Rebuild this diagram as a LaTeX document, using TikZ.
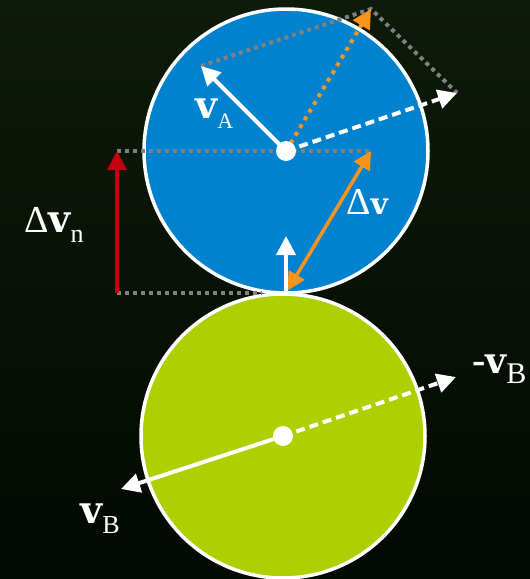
\documentclass[tikz,border=0pt]{standalone}
\usepackage{fontspec}
\setmainfont{Liberation Serif}
\newfontfamily\vfont{DejaVu Serif}
\usetikzlibrary{arrows.meta,calc}
\definecolor{bgtop}{RGB}{14,26,10}
\definecolor{bgbot}{RGB}{3,9,3}
\definecolor{ballA}{RGB}{0,130,206}
\definecolor{ballB}{RGB}{174,207,0}
\definecolor{relorange}{RGB}{247,148,30}
\definecolor{normred}{RGB}{196,0,16}
\definecolor{guide}{RGB}{128,128,128}
\newcommand{\bvec}[1]{{\vfont\bfseries\fontsize{#1}{#1}\selectfont v}}
\newcommand{\lsub}[2]{\raisebox{-10pt}{\fontsize{#1}{#1}\selectfont #2}}
\newcommand{\bigDelta}{{\fontsize{38}{38}\selectfont Δ}}

\begin{document}
\begin{tikzpicture}[x=1pt,y=-1pt,
    ball/.style={draw=white, line width=3.5pt},
    tip/.style={-{Triangle[length=19pt,width=19pt]}},
    vel/.style={white, line width=4pt, tip},
    guideline/.style={guide, line width=4pt, dash pattern=on 4pt off 4pt},
    lbl/.style={text=white, inner sep=0pt, anchor=base west},
    hub/.style={circle, fill=white, minimum size=20pt, inner sep=0pt},
  ]
  \shade[top color=bgtop, bottom color=bgbot] (0,0) rectangle (530,579);
  \useasboundingbox (0,0) rectangle (530,579);

  % points
  \coordinate (ctrA) at (286,151);
  \coordinate (ctrB) at (283,436);
  \coordinate (contact) at (286,293);
  \coordinate (vAtip) at (201,66);
  \coordinate (mvBtop) at (457,93);
  \coordinate (reltip) at (371,9);
  \coordinate (dvtip) at (371,151);
  \coordinate (dvnbot) at (117,293);
  \coordinate (dvntop) at (117,151);
  \coordinate (ntip) at (286,236);
  \coordinate (mvBtip) at (456,377);
  \coordinate (vBtip) at (121,489);

  % balls
  \draw[ball, fill=ballA] (ctrA) circle[radius=142pt];
  \draw[ball, fill=ballB] (ctrB) circle[radius=142pt];

  % construction lines
  \draw[guideline] (vAtip) -- (reltip) -- (mvBtop);
  \draw[guideline] (dvntop) -- (dvtip);
  \draw[guideline, shorten >=24pt] (dvnbot) -- (contact);

  % velocities of A
  \draw[vel] (ctrA) -- (vAtip);
  \draw[vel, dash pattern=on 9pt off 5pt] (ctrA) -- (mvBtop);
  \draw[relorange, line width=4pt, dash pattern=on 4pt off 5pt, tip] (ctrA) -- (reltip);
  \draw[relorange, line width=3.5pt, shorten <=3pt,
        {Triangle[length=18pt,width=18pt]}-{Triangle[length=18pt,width=18pt]}] (contact) -- (dvtip);
  \draw[vel] (contact) -- (ntip);
  \draw[normred, line width=4pt, tip] (dvnbot) -- (dvntop);

  % velocities of B
  \draw[vel] (ctrB) -- (vBtip);
  \draw[vel, dash pattern=on 9pt off 5pt] (ctrB) -- (mvBtip);

  \node[hub] (hubA) at (ctrA) {};
  \node[hub] (hubB) at (ctrB) {};

  % labels
  \node[lbl] (labA) at (195,118) {\bvec{38}\lsub{22}{A}};
  \node[lbl] (labdv) at (346,214) {\bigDelta\bvec{30}};
  \node[lbl] (labdvn) at (24,232) {\bigDelta\bvec{38}\lsub{26}{n}};
  \node[lbl] (labmvB) at (472,373) {{\fontsize{40}{40}\selectfont\bfseries -}\bvec{36}\lsub{30}{B}};
  \node[lbl] (labvB) at (80,523) {\bvec{38}\lsub{26}{B}};
\end{tikzpicture}
\end{document}
